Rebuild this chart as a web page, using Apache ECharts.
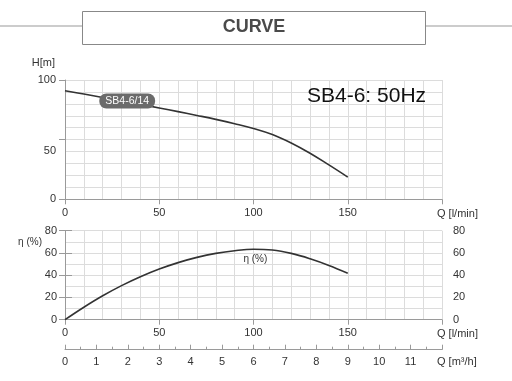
<!DOCTYPE html>
<html>
<head>
<meta charset="utf-8">
<script src="https://cdn.jsdelivr.net/npm/echarts@6/dist/echarts.min.js"></script>
<style>
html,body{margin:0;padding:0;background:#fff;}
#chart{width:512px;height:381px;}
</style>
</head>
<body>
<div id="chart"></div>
<script>
// Data
var flowLmin = [0, 10, 20, 30, 40, 50, 60, 70, 80, 90, 100, 110, 120, 130, 140, 150];
var headM = [91, 88.2, 85.4, 82.5, 79.6, 76.6, 73.5, 70.3, 67, 63.4, 59.4, 54.3, 47.2, 38.6, 28.8, 18.6];
var effPct = [0, 11.2, 21.5, 30.6, 38.6, 45.5, 51.3, 56, 59.6, 62, 63.3, 62.6, 59.6, 54.8, 48.8, 41.8];
var pumpLabel = 'SB4-6/14';
var chartTitle = 'SB4-6: 50Hz';
var headerText = 'CURVE';

var FONT = '"Liberation Sans", Arial, sans-serif';
var GRID_C = '#dcdcdc';
var AXIS_C = '#9a9a9a';
var TXT_C = '#333';

function pairs(xs, ys) { return xs.map(function (x, i) { return [x, ys[i]]; }); }

var chart = echarts.init(document.getElementById('chart'), null, {renderer: 'canvas'});

function xAxisLmin(gi) {
  return {
    type: 'value', gridIndex: gi, min: 0, max: 200, interval: 50,
    axisLine: {show: true, onZero: false, lineStyle: {color: AXIS_C, width: 1}},
    axisTick: {show: true, length: 5, lineStyle: {color: AXIS_C}},
    axisLabel: {color: TXT_C, fontSize: 11, fontFamily: FONT, margin: 8,
      formatter: function (v) { return v === 200 ? '' : String(v); }},
    splitLine: {show: true, lineStyle: {color: GRID_C, width: 1}},
    minorTick: {show: false, splitNumber: 5},
    minorSplitLine: {show: true, lineStyle: {color: GRID_C, width: 1}},
    name: 'Q [l/min]', nameLocation: 'end', nameGap: -5,
    nameTextStyle: {color: TXT_C, fontSize: 11, fontFamily: FONT, align: 'left', verticalAlign: 'top', padding: [9, 0, 0, 0]}
  };
}

var option = {
  backgroundColor: '#fff',
  animation: false,
  textStyle: {fontFamily: FONT},
  title: {
    text: chartTitle, left: 307, top: 86, padding: 0,
    textStyle: {fontSize: 21, fontWeight: 'normal', color: '#111', fontFamily: FONT}
  },
  graphic: [
    {type: 'line', shape: {x1: 0, y1: 26, x2: 82, y2: 26}, style: {stroke: '#999', lineWidth: 1}},
    {type: 'line', shape: {x1: 425, y1: 26, x2: 512, y2: 26}, style: {stroke: '#999', lineWidth: 1}},
    {type: 'rect', shape: {x: 82.5, y: 11.5, width: 343, height: 33}, style: {fill: '#fff', stroke: '#888', lineWidth: 1}},
    {type: 'text', x: 254, y: 27, style: {text: headerText, fill: '#4a4a4a', fontSize: 18, fontWeight: 'bold', fontFamily: FONT, textAlign: 'center', textVerticalAlign: 'middle'}}
  ],
  grid: [
    {left: 65, top: 80, width: 377, height: 119.3},
    {left: 65, top: 230.7, width: 377, height: 89}
  ],
  xAxis: [
    xAxisLmin(0),
    xAxisLmin(1),
    {
      type: 'value', gridIndex: 1, position: 'bottom', offset: 30, min: 0, max: 12, interval: 1,
      axisLine: {show: true, onZero: false, lineStyle: {color: AXIS_C, width: 1}},
      axisTick: {show: true, inside: true, length: 5, lineStyle: {color: AXIS_C}},
      minorTick: {show: true, splitNumber: 2, length: 3, lineStyle: {color: AXIS_C}},
      axisLabel: {color: TXT_C, fontSize: 11, fontFamily: FONT, margin: 7,
        formatter: function (v) { return v === 12 ? '' : String(v); }},
      splitLine: {show: false},
      name: 'Q [m³/h]', nameLocation: 'end', nameGap: -5,
      nameTextStyle: {color: TXT_C, fontSize: 11, fontFamily: FONT, align: 'left', verticalAlign: 'top', padding: [7, 0, 0, 0]}
    }
  ],
  yAxis: [
    {
      type: 'value', gridIndex: 0, min: 0, max: 100, interval: 50,
      axisLine: {show: true, lineStyle: {color: AXIS_C, width: 1}},
      axisTick: {show: true, length: 6, lineStyle: {color: AXIS_C}},
      axisLabel: {color: TXT_C, fontSize: 11, fontFamily: FONT, margin: 9,
        formatter: function (v) { return v === 50 ? '{lo|50}' : String(v); },
        rich: {lo: {fontSize: 11, fontFamily: FONT, color: TXT_C, padding: [23, 0, 0, 0]}}},
      splitLine: {show: true, lineStyle: {color: GRID_C}},
      minorTick: {show: false, splitNumber: 5},
      minorSplitLine: {show: true, lineStyle: {color: GRID_C}},
      name: 'H[m]', nameLocation: 'end', nameGap: 12,
      nameTextStyle: {color: TXT_C, fontSize: 11, fontFamily: FONT, align: 'right', padding: [0, 10, 0, 0]}
    },
    {
      type: 'value', gridIndex: 1, min: 0, max: 80, interval: 20, position: 'left',
      axisLine: {show: true, lineStyle: {color: AXIS_C, width: 1}},
      axisTick: {show: true, length: 6, lineStyle: {color: AXIS_C}},
      axisLabel: {color: TXT_C, fontSize: 11, fontFamily: FONT, margin: 8},
      splitLine: {show: true, lineStyle: {color: GRID_C}},
      minorTick: {show: false, splitNumber: 2},
      minorSplitLine: {show: true, lineStyle: {color: GRID_C}},
      name: 'η (%)', nameLocation: 'end', nameGap: -13,
      nameTextStyle: {color: TXT_C, fontSize: 10, fontFamily: FONT, align: 'right', verticalAlign: 'middle', padding: [0, 23, 0, 0]}
    },
    {
      type: 'value', gridIndex: 1, min: 0, max: 80, interval: 20, position: 'right',
      axisLine: {show: true, lineStyle: {color: AXIS_C, width: 1}},
      axisTick: {show: true, length: 7, lineStyle: {color: AXIS_C}},
      axisLabel: {color: TXT_C, fontSize: 11, fontFamily: FONT, margin: 11},
      splitLine: {show: false}
    }
  ],
  series: [
    {
      name: 'H', type: 'line', xAxisIndex: 0, yAxisIndex: 0,
      data: pairs(flowLmin, headM), smooth: 0.4, showSymbol: false,
      lineStyle: {color: '#333', width: 1.6},
      markPoint: {
        symbol: 'circle', symbolSize: 0,
        data: [{coord: [33, 82.4], value: pumpLabel}],
        label: {show: true, position: 'inside', formatter: pumpLabel, color: '#fff', fontSize: 10.5, fontFamily: FONT,
          backgroundColor: '#6b6b6b', borderRadius: 7, padding: [2, 6, 2, 6]}
      }
    },
    {
      name: 'η', type: 'line', xAxisIndex: 1, yAxisIndex: 1,
      data: pairs(flowLmin, effPct), smooth: 0.4, showSymbol: false,
      lineStyle: {color: '#333', width: 1.6},
      markPoint: {
        symbol: 'circle', symbolSize: 0,
        data: [{coord: [101, 54], value: 'η (%)'}],
        label: {show: true, position: 'inside', formatter: 'η (%)', color: '#333', fontSize: 10, fontFamily: FONT}
      }
    }
  ]
};
chart.setOption(option);
</script>
</body>
</html>
